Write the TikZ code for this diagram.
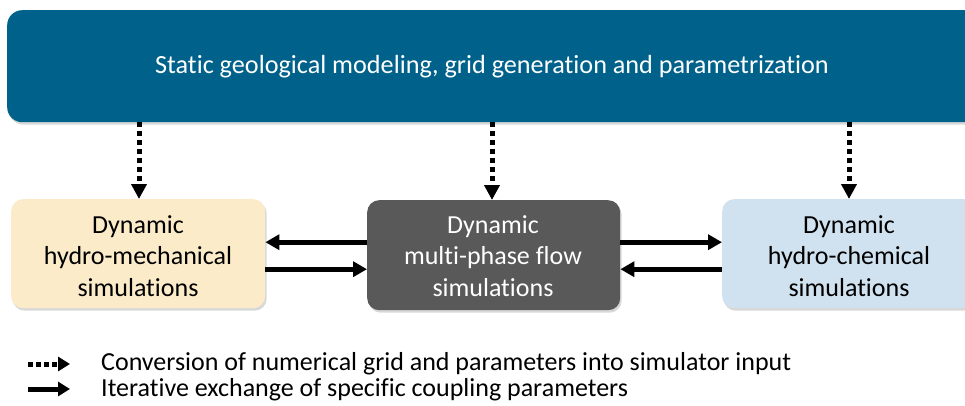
\documentclass[tikz,border=0pt]{standalone}
\usepackage{fontspec}
\setmainfont[Ligatures=NoCommon]{Carlito}
\usetikzlibrary{arrows.meta,shadows}
\definecolor{topblue}{HTML}{00628B}
\definecolor{beige}{HTML}{FCEBC9}
\definecolor{darkgray}{HTML}{595959}
\definecolor{lightblue}{HTML}{D0E1EF}
\tikzset{
  box/.style={rounded corners=12pt, draw=none, align=center,
    drop shadow={shadow xshift=1.5pt, shadow yshift=-2.5pt, opacity=0.3}},
  boxtext/.style={font=\fontsize{26}{31.5}\selectfont, align=center},
  dotarrow/.style={line width=5pt, dash pattern=on 5pt off 4pt, -{Triangle[length=15pt,width=15pt]}},
  solidarrow/.style={line width=5pt, -{Triangle[length=14pt,width=15pt]}},
  legtext/.style={anchor=west, font=\fontsize{26}{30}\selectfont, inner sep=0pt}
}
\begin{document}
\begin{tikzpicture}[x=1pt,y=-1pt]
\useasboundingbox (0,0) rectangle (965,406);
\fill[white] (0,0) rectangle (965,406);
\node[box, fill=topblue, minimum width=972pt, minimum height=112pt, anchor=north west, rounded corners=15pt] (top) at (7,10) {};
\node[text=white, font=\fontsize{26.2}{30}\selectfont] (toptext) at (492,67) {Static geological modeling, grid generation and parametrization};
\node[box, fill=beige, minimum width=254pt, minimum height=109pt, anchor=north west] (hm) at (11,199) {};
\node[box, fill=darkgray, minimum width=253pt, minimum height=110pt, anchor=north west] (mp) at (367,200) {};
\node[box, fill=lightblue, minimum width=254pt, minimum height=109pt, anchor=north west] (hc) at (722,199) {};
\node[boxtext] (hmt) at (138,256) {Dynamic\\hydro-mechanical\\simulations};
\node[boxtext, text=white] (mpt) at (493,256) {Dynamic\\multi-phase flow\\simulations};
\node[boxtext] (hct) at (849,256) {Dynamic\\hydro-chemical\\simulations};
% dotted arrows
\coordinate (d1) at (139,122); \coordinate (d2) at (492,122); \coordinate (d3) at (849,122);
\draw[dotarrow] (d1) -- (d1 |- hm.north);
\draw[dotarrow] (d2) -- (d2 |- mp.north);
\draw[dotarrow] (d3) -- (d3 |- hc.north);
% solid arrows
\draw[solidarrow] ([yshift=13pt]mp.west) -- ([yshift=13pt]mp.west -| hm.east);
\draw[solidarrow] ([yshift=-14pt]hm.east |- mp.west) -- ([yshift=-14pt]mp.west);
\draw[solidarrow] ([yshift=13pt]mp.east) -- ([yshift=13pt]mp.east -| hc.west);
\draw[solidarrow] ([yshift=-14pt]hc.west |- mp.east) -- ([yshift=-14pt]mp.east);
% legend
\coordinate (l1a) at (28,364); \coordinate (l1b) at (70,364);
\coordinate (l2a) at (28,389); \coordinate (l2b) at (70,389);
\draw[line width=5pt, dash pattern=on 5pt off 3pt, -{Triangle[length=12pt,width=14pt]}] (l1a) -- (l1b);
\draw[line width=5pt, -{Triangle[length=12pt,width=14pt]}] (l2a) -- (l2b);
\node[legtext] (leg1) at (101,364) {Conversion of numerical grid and parameters into simulator input};
\node[legtext] (leg2) at (101,390) {Iterative exchange of specific coupling parameters};
\end{tikzpicture}
\end{document}
